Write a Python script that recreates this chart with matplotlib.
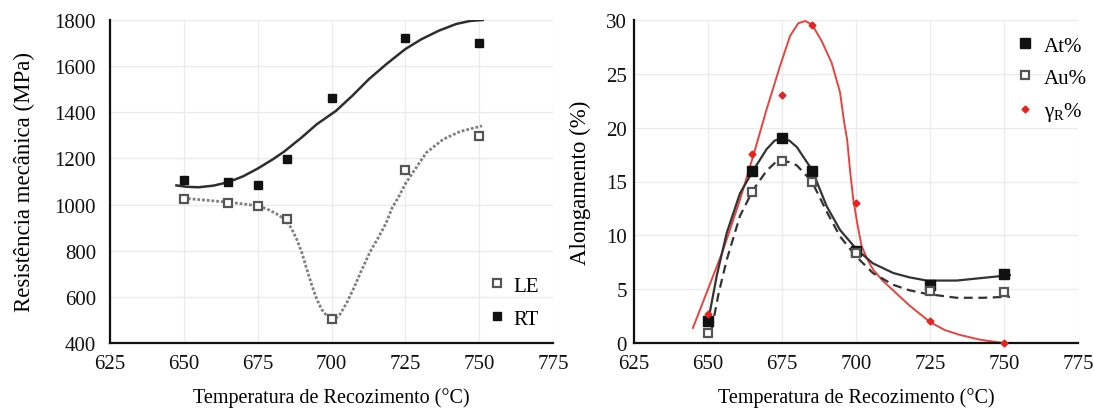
import matplotlib
matplotlib.use("Agg")
import matplotlib.pyplot as plt

plt.rcParams['font.family'] = ['Liberation Serif', 'DejaVu Serif']
plt.rcParams['mathtext.fontset'] = 'custom'
plt.rcParams['mathtext.rm'] = 'Liberation Serif'

# dados medidos
temp = [650, 665, 675, 685, 700, 725, 750]
rt = [1106, 1098, 1086, 1199, 1461, 1722, 1701]
le = [1026, 1007, 995, 936, 502, 1149, 1298]
at = [2.0, 16.0, 19.0, 16.0, 8.5, 5.4, 6.4]
au = [0.9, 14.0, 16.9, 15.0, 8.4, 4.8, 4.7]
gr = [2.7, 17.6, 23.0, 29.5, 13.0, 2.0, 0.0]

# linhas de tendencia
rt_fit_x = [647.5, 651, 655, 660, 665, 670, 675, 680, 684, 690, 695, 701.5, 707, 712.7,
            718.6, 725, 730.5, 736.4, 742.3, 747, 751.2]
rt_fit_y = [1083, 1077, 1075, 1082, 1097, 1122, 1156, 1195, 1230, 1292, 1348, 1406, 1471, 1544,
            1609, 1674, 1717, 1754, 1783, 1796, 1800]
le_fit_x = [649.8, 655, 660, 665.1, 670, 674.7, 678, 681.5, 684.8, 686.5, 688.2, 690, 691.6,
            693.3, 695, 696.7, 698.4, 700.1, 701.5, 702.9, 705, 707.4, 710, 713, 716, 718.5,
            720.5, 722.9, 725, 727.5, 732.1, 737.8, 743.6, 751]
le_fit_y = [1027, 1022, 1016, 1010, 1003, 995, 982, 959, 930, 895, 851, 790, 721,
            652, 590, 545, 518, 501, 508, 525, 570, 634, 710, 794, 860, 920,
            985, 1037, 1090, 1138, 1225, 1283, 1317, 1341]
at_fit_x = [650.1, 653, 656.3, 660.8, 665.2, 669.8, 672.5, 675, 677.5, 680, 685.1, 690.1, 694.6,
            700.2, 705.7, 712.6, 718, 723.9, 734, 743, 752]
at_fit_y = [2.1, 6.3, 10.2, 13.9, 16.0, 18.0, 18.8, 19.0, 18.8, 18.2, 16.1, 12.7, 10.5,
            8.7, 7.4, 6.5, 6.1, 5.8, 5.8, 6.05, 6.3]
au_fit_x = [651.2, 653.5, 656.3, 660.8, 665.2, 669.8, 672.5, 675, 677.5, 680, 685.1, 690.1, 694.6,
            700.2, 705.7, 712.6, 718, 723.9, 734, 743, 752]
au_fit_y = [1.2, 4.5, 7.7, 11.8, 14.2, 16.0, 16.7, 16.9, 16.8, 16.5, 15.0, 12.2, 9.9,
            8.0, 6.5, 5.4, 4.9, 4.56, 4.2, 4.2, 4.3]
gr_fit_x = [644.9, 650, 655.2, 660.8, 665.2, 669.8, 674.3, 677.7, 680.5, 682.8, 685.1, 688.5,
            691.8, 694.6, 696.0, 697.0, 698.0, 699.1, 700.5, 701.9, 703.8, 705.8, 709, 712.5,
            718, 725, 730, 735.1, 742, 749.7, 752]
gr_fit_y = [1.4, 5.0, 8.7, 13.3, 17.3, 21.7, 25.7, 28.5, 29.7, 29.9, 29.6, 28.0,
            26.0, 23.3, 20.5, 18.9, 16.0, 13.3, 11.0, 9.0, 7.8, 6.8, 5.8, 4.9,
            3.5, 1.95, 1.2, 0.75, 0.3, 0.0, 0.0]

xticks = [625, 650, 675, 700, 725, 750, 775]

fig = plt.figure(figsize=(10.94, 4.10), dpi=100)
W, H = 1094, 410
ax1 = fig.add_axes([110 / W, 1 - 344 / H, 443 / W, 323 / H])
ax2 = fig.add_axes([634 / W, 1 - 344 / H, 444 / W, 323 / H])

for ax in (ax1, ax2):
    ax.set_xlim(625, 775)
    ax.set_xticks(xticks)
    ax.grid(True, color='#ebebeb', linewidth=1.0)
    ax.set_axisbelow(True)
    for s in ('top', 'right'):
        ax.spines[s].set_visible(False)
    for s in ('left', 'bottom'):
        ax.spines[s].set_linewidth(1.6)
        ax.spines[s].set_color('#111111')
    ax.tick_params(length=0, labelsize=15, colors='#111111')
    ax.tick_params(axis='x', pad=8)
    ax.set_xlabel('Temperatura de Recozimento (°C)', fontsize=14.5, labelpad=10)

# painel esquerdo
ax1.set_ylim(400, 1800)
ax1.set_yticks(range(400, 1801, 200))
ax1.tick_params(axis='y', pad=10)
ax1.plot(rt_fit_x, rt_fit_y, color='#2e2e2e', lw=1.8, zorder=2)
ax1.plot(le_fit_x, le_fit_y, color='#808080', lw=2.0, ls=(0, (1, 0.7)), zorder=2)
ax1.plot(temp, le, 's', ms=6, mfc='white', mec='#555555', mew=1.6, label='LE', zorder=3)
ax1.plot(temp, rt, 's', ms=5.5, color='#111111', label='RT', zorder=3)
ax1.set_ylabel('Resistência mecânica (MPa)', fontsize=16.5, labelpad=14)
ax1.legend(loc='upper left', bbox_to_anchor=(489 / W, 1 - 277 / H), bbox_transform=fig.transFigure,
           frameon=False, fontsize=15, handlelength=0.8, handletextpad=0.35,
           labelspacing=0.65, borderpad=0, borderaxespad=0)

# painel direito
ax2.set_ylim(0, 30)
ax2.set_yticks(range(0, 31, 5))
ax2.tick_params(axis='y', pad=5)
ax2.plot(gr_fit_x, gr_fit_y, color='#e8443e', lw=1.4, zorder=2, clip_on=False)
ax2.plot(at_fit_x, at_fit_y, color='#333333', lw=1.6, zorder=2)
ax2.plot(au_fit_x, au_fit_y, color='#333333', lw=1.6, ls=(0, (4, 2.5)), zorder=2)
ax2.plot(temp, at, 's', ms=6.5, color='#111111', label='At%', zorder=3)
ax2.plot(temp, au, 's', ms=5.5, mfc='white', mec='#555555', mew=1.6, label='Au%', zorder=4)
ax2.plot(temp, gr, 'D', ms=3.5, color='#e8221e', label='γ$_\\mathrm{R}$%', zorder=5, clip_on=False)
ax2.set_ylabel('Alongamento (%)', fontsize=16.5, labelpad=11)
ax2.legend(loc='upper left', bbox_to_anchor=(1017 / W, 1 - 37 / H), bbox_transform=fig.transFigure,
           frameon=False, fontsize=15, handlelength=0.8, handletextpad=0.5,
           labelspacing=0.6, borderpad=0, borderaxespad=0)

fig.savefig('out.png', dpi=100)
